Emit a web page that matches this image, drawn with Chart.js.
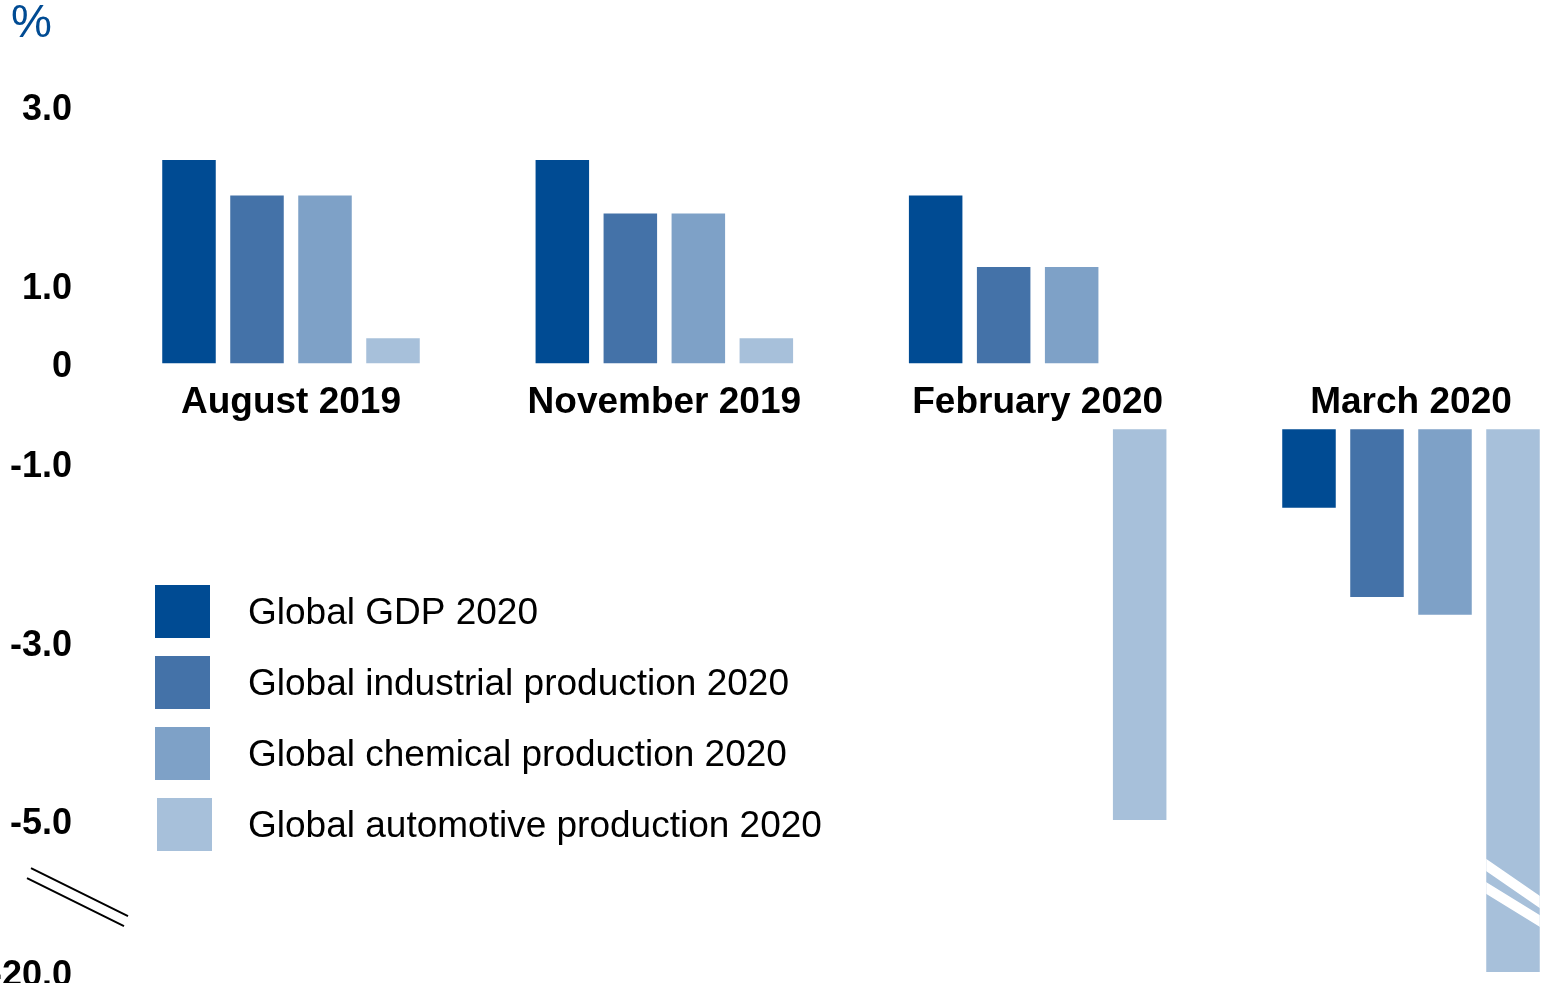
<!DOCTYPE html>
<html lang="en">

<head>
    <meta charset="UTF-8">
    <title>Expectations for 2020</title>
    <script src="https://cdn.jsdelivr.net/npm/chart.js"></script>
    <style>
        html, body {
            margin: 0;
            padding: 0;
            background: #fff;
            overflow: hidden;
        }

        .chart-container {
            position: relative;
            width: 1542px;
            height: 983px;
        }
    </style>
</head>

<body>
    <div class="chart-container">
        <canvas id="outlookChart"></canvas>
    </div>
    <script>
        // forecast dates
        var categories = ['August 2019', 'November 2019', 'February 2020', 'March 2020'];
        // expected change in 2020, %
        var gdp = [2.4, 2.4, 2.0, -1.5];
        var industrial = [2.0, 1.8, 1.2, -2.5];
        var chemical = [2.0, 1.8, 1.2, -2.7];
        var automotive = [0.4, 0.4, -5.0, -20.0];
        var seriesNames = ['Global GDP 2020', 'Global industrial production 2020',
            'Global chemical production 2020', 'Global automotive production 2020'];
        var seriesValues = [gdp, industrial, chemical, automotive];
        var seriesColors = ['#004b93', '#4472a8', '#7ea1c7', '#a7c0da'];
        // y axis ticks
        var tickValues = [3, 1, 0, -1, -3, -5, -20];
        var tickLabels = ['3.0', '1.0', '0', '-1.0', '-3.0', '-5.0', '-20.0'];

        // axis is cut below -5, the rest is squeezed
        var BREAK_AT = -5;
        var BREAK_SCALE = 0.1136;
        // bars leave a gap around zero for the date labels
        var POS_START = 0.12;
        var NEG_START = -0.62;

        function toAxis(v) {
            return v < BREAK_AT ? BREAK_AT + (v - BREAK_AT) * BREAK_SCALE : v;
        }

        function barRange(v) {
            return [v >= 0 ? POS_START : NEG_START, toAxis(v)];
        }

        var FONT = '"Liberation Sans", Arial, sans-serif';

        // date labels between the positive and negative bars
        var dateLabels = {
            id: 'dateLabels',
            afterDatasetsDraw: function (chart) {
                var ctx = chart.ctx, x = chart.scales.x;
                ctx.save();
                ctx.font = 'bold 37px ' + FONT;
                ctx.fillStyle = '#000';
                ctx.textAlign = 'center';
                ctx.textBaseline = 'middle';
                chart.data.labels.forEach(function (label, i) {
                    ctx.fillText(label, x.getPixelForValue(i), 403);
                });
                ctx.restore();
            }
        };

        // legend sitting inside the plot
        var legendBox = {
            id: 'legendBox',
            afterDraw: function (chart) {
                var ctx = chart.ctx;
                ctx.save();
                ctx.font = '37px ' + FONT;
                ctx.textBaseline = 'middle';
                chart.data.datasets.forEach(function (ds, i) {
                    var top = 585 + i * 71;
                    ctx.fillStyle = ds.backgroundColor;
                    ctx.fillRect(155 + (i === 3 ? 2 : 0), top, 55, 53);
                    ctx.fillStyle = '#000';
                    ctx.fillText(ds.label, 248, top + 29);
                });
                // unit
                ctx.font = '46px ' + FONT;
                ctx.fillStyle = '#004b93';
                ctx.textAlign = 'left';
                ctx.fillText('%', 11, 24);
                ctx.restore();
            }
        };

        // break marks on the axis and on bars going past -5
        var breakMarks = {
            id: 'breakMarks',
            afterDatasetsDraw: function (chart) {
                var ctx = chart.ctx, y = chart.scales.y;
                var mid = (y.getPixelForValue(toAxis(-5)) + y.getPixelForValue(toAxis(-20))) / 2;
                ctx.save();
                ctx.strokeStyle = '#000';
                ctx.lineWidth = 2;
                ctx.beginPath();
                ctx.moveTo(31, mid - 28);
                ctx.lineTo(128, mid + 20);
                ctx.moveTo(27, mid - 18);
                ctx.lineTo(124, mid + 30);
                ctx.stroke();

                chart.data.datasets.forEach(function (ds, di) {
                    chart.getDatasetMeta(di).data.forEach(function (bar, i) {
                        if (seriesValues[di][i] >= BREAK_AT) return;
                        var p = bar.getProps(['x', 'width']);
                        var left = p.x - p.width / 2, right = p.x + p.width / 2;
                        var k1 = 37 / p.width, k2 = 33 / p.width;
                        ctx.save();
                        ctx.beginPath();
                        ctx.rect(left, mid - 80, p.width, 160);
                        ctx.clip();
                        ctx.strokeStyle = '#fff';
                        ctx.lineWidth = 10;
                        ctx.beginPath();
                        ctx.moveTo(left - 10, mid - 31 - 10 * k1);
                        ctx.lineTo(right + 10, mid + 6 + 10 * k1);
                        ctx.moveTo(left - 10, mid - 8 - 10 * k2);
                        ctx.lineTo(right + 10, mid + 25 + 10 * k2);
                        ctx.stroke();
                        ctx.restore();
                    });
                });
                ctx.restore();
            }
        };

        var datasets = seriesValues.map(function (values, i) {
            return {
                label: seriesNames[i],
                data: values.map(barRange),
                backgroundColor: seriesColors[i],
                borderWidth: 0,
                clip: false
            };
        });

        new Chart(document.getElementById('outlookChart'), {
            type: 'bar',
            data: {
                labels: categories,
                datasets: datasets
            },
            options: {
                responsive: true,
                maintainAspectRatio: false,
                animation: false,
                categoryPercentage: 0.7286,
                barPercentage: 0.787,
                layout: {
                    padding: { left: 0, right: 131, top: 0, bottom: 0 }
                },
                plugins: {
                    legend: { display: false },
                    tooltip: { enabled: false }
                },
                scales: {
                    x: {
                        type: 'category',
                        offset: false,
                        display: false,
                        grid: { display: false }
                    },
                    y: {
                        min: -6.827,
                        max: 4.193,
                        grid: { display: false, drawTicks: false },
                        border: { display: false },
                        afterBuildTicks: function (scale) {
                            scale.ticks = tickValues.map(function (v) {
                                return { value: v === 0 ? POS_START : toAxis(v) };
                            });
                        },
                        afterFit: function (scale) {
                            // wide gap between labels and bars, no extra room above/below
                            scale.width = 291;
                            scale.paddingTop = 0;
                            scale.paddingBottom = 0;
                        },
                        ticks: {
                            autoSkip: false,
                            padding: 219,
                            labelOffset: 4,
                            color: '#000',
                            font: { family: FONT, size: 36, weight: 'bold' },
                            callback: function (value, index) {
                                return tickLabels[index];
                            }
                        }
                    }
                }
            },
            plugins: [dateLabels, legendBox, breakMarks]
        });
    </script>
</body>

</html>
